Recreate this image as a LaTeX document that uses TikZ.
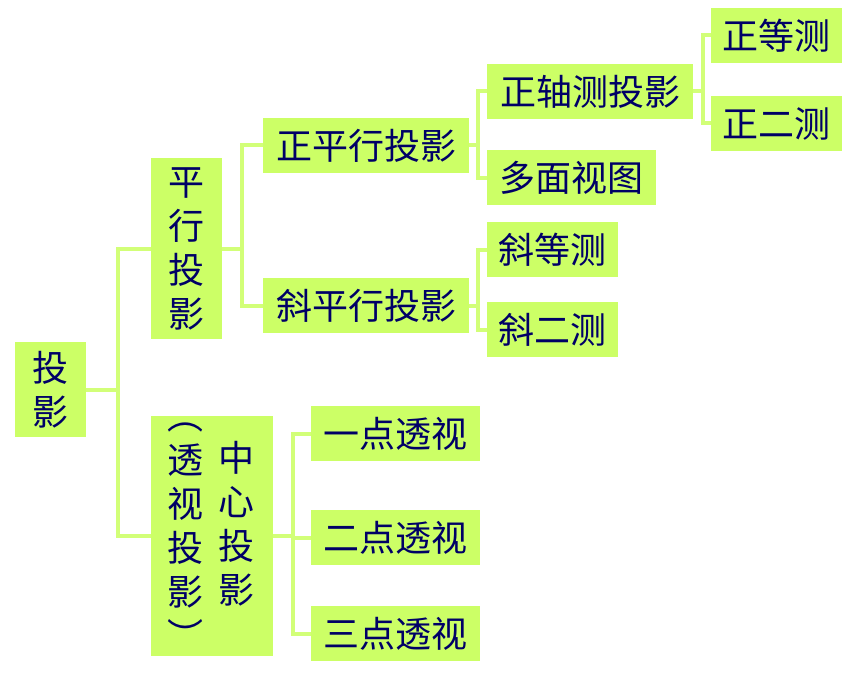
\documentclass[tikz,border=0pt]{standalone}
\usepackage{fontspec}
\setmainfont{Noto Sans CJK SC}
\definecolor{boxgreen}{RGB}{204,255,102}
\definecolor{linegreen}{RGB}{210,255,120}
\definecolor{inkblue}{RGB}{0,0,102}
\begin{document}
\begin{tikzpicture}[x=1pt,y=-1pt,
    box/.style={fill=boxgreen,inner sep=0pt,text=inkblue,align=center,
      font=\fontsize{36}{44}\selectfont},
    coltext/.style={inner sep=0pt,text=inkblue,align=center,
      font=\fontsize{36}{44}\selectfont},
    conn/.style={linegreen,line width=4pt}]
  \useasboundingbox (0,0) rectangle (854,690);
  % boxes
  \node[box,minimum width=71,minimum height=95] (touying) at (50.5,389.5) {投\\影};
  \node[box,minimum width=71,minimum height=181] (pingxing) at (186.5,248.5) {平\\行\\投\\影};
  \node[box,minimum width=122,minimum height=240] (zhongxin) at (212,536) {};
  \node[coltext] (zhongxinR) at (236,523.5) {中\\心\\投\\影};
  \node[coltext] (zhongxinL) at (185,536) {︵\\透\\视\\投\\影\\︶};
  \node[box,minimum width=206,minimum height=55] (zheng) at (366,145.5) {正平行投影};
  \node[box,minimum width=206,minimum height=55] (xie) at (366,305.5) {斜平行投影};
  \node[box,minimum width=206,minimum height=55] (zhouce) at (590,91.5) {正轴测投影};
  \node[box,minimum width=169,minimum height=55] (duomian) at (571.5,177.5) {多面视图};
  \node[box,minimum width=131,minimum height=55] (zdeng) at (776.5,35.5) {正等测};
  \node[box,minimum width=131,minimum height=55] (zer) at (776.5,123.5) {正二测};
  \node[box,minimum width=131,minimum height=55] (xdeng) at (552.5,249.5) {斜等测};
  \node[box,minimum width=131,minimum height=55] (xer) at (552.5,329.5) {斜二测};
  \node[box,minimum width=169,minimum height=55] (yidian) at (395.5,433.5) {一点透视};
  \node[box,minimum width=169,minimum height=55] (erdian) at (395.5,537.5) {二点透视};
  \node[box,minimum width=169,minimum height=55] (sandian) at (395.5,633.5) {三点透视};
  % connectors
  \draw[conn] (touying.east) -- ++(32,0) |- (pingxing.west);
  \draw[conn] (touying.east) -- ++(32,0) |- (zhongxin.west);
  \draw[conn] (pingxing.east) -- ++(20,0) |- (zheng.west);
  \draw[conn] (pingxing.east) -- ++(20,0) |- (xie.west);
  \draw[conn] (zheng.east) -- ++(9,0) |- (zhouce.west);
  \draw[conn] (zheng.east) -- ++(9,0) |- (duomian.west);
  \draw[conn] (zhouce.east) -- ++(10,0) |- (zdeng.west);
  \draw[conn] (zhouce.east) -- ++(10,0) |- (zer.west);
  \draw[conn] (xie.east) -- ++(9,0) |- (xdeng.west);
  \draw[conn] (xie.east) -- ++(9,0) |- (xer.west);
  \foreach \t in {yidian,erdian,sandian}
    \draw[conn] (zhongxin.east) -- ++(20,0) |- (\t.west);
\end{tikzpicture}
\end{document}
